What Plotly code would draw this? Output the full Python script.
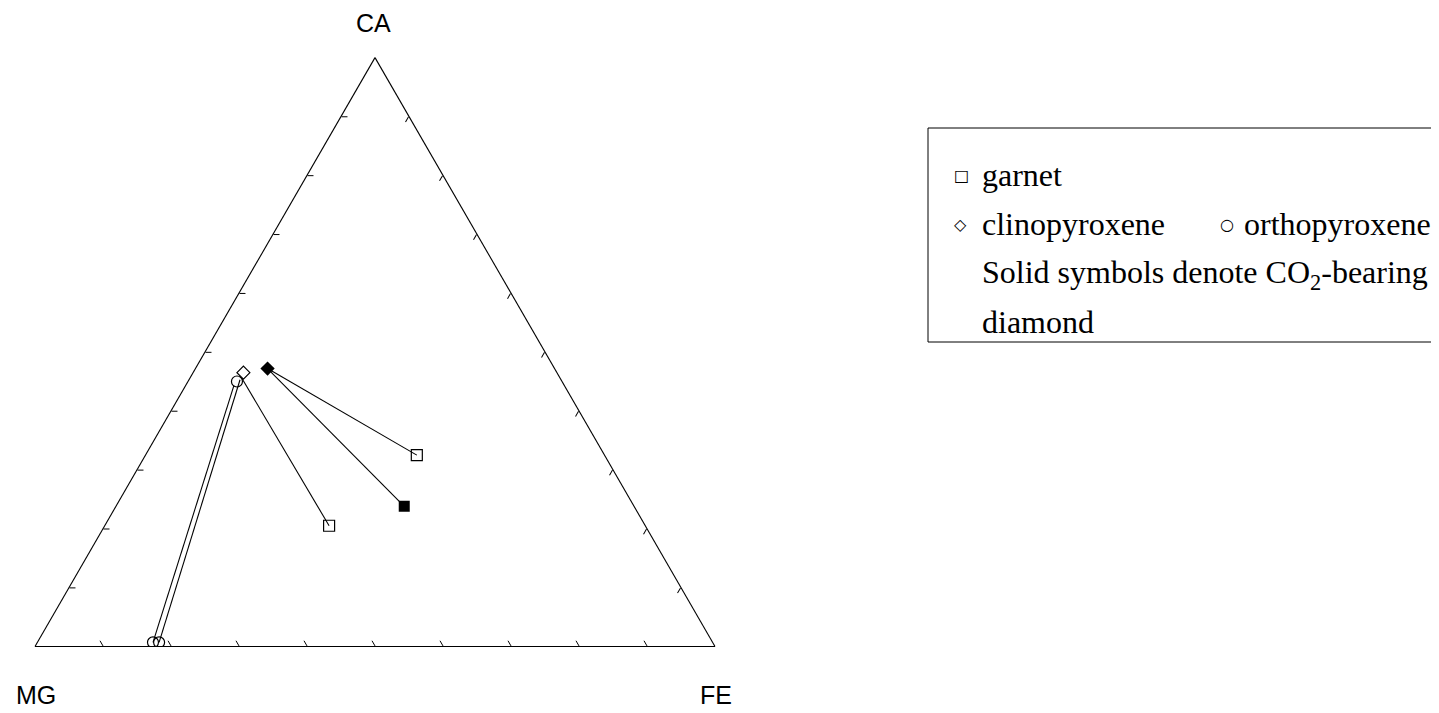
import plotly.graph_objects as go

# page body has an 8px margin: the figure is sized to fit inside the window
OFF = 8
W, H = 1439 - OFF, 713 - OFF

# ---- data (ternary: CA, MG, FE in percent) ----
garnet_open_ca = [32.5, 20.5]
garnet_open_mg = [27.6, 46.5]
garnet_open_fe = [39.9, 33.0]

garnet_solid_ca = [23.8]
garnet_solid_mg = [33.8]
garnet_solid_fe = [42.4]

cpx_open_ca = [46.5]
cpx_open_mg = [46.1]
cpx_open_fe = [7.4]

cpx_solid_ca = [47.2]
cpx_solid_mg = [42.2]
cpx_solid_fe = [10.6]

opx_ca = [0.7, 0.7, 45.0]
opx_mg = [82.3, 81.4, 47.8]
opx_fe = [17.0, 17.9, 7.2]

# tie lines: start (garnet / opx) -> end (cpx)
tie_start_ca = [32.5, 23.8, 20.5, 0.7, 0.7]
tie_start_mg = [27.6, 33.8, 46.5, 82.3, 81.4]
tie_start_fe = [39.9, 42.4, 33.0, 17.0, 17.9]
tie_end_ca = [47.2, 47.2, 45.6, 44.3, 45.3]
tie_end_mg = [42.2, 42.2, 46.8, 48.6, 47.2]
tie_end_fe = [10.6, 10.6, 7.6, 7.1, 7.5]

fig = go.Figure()

for i in range(len(tie_start_ca)):
    fig.add_trace(go.Scatterternary(
        a=[tie_start_ca[i], tie_end_ca[i]],
        b=[tie_start_mg[i], tie_end_mg[i]],
        c=[tie_start_fe[i], tie_end_fe[i]],
        mode="lines", line=dict(color="black", width=1.1),
        showlegend=False, hoverinfo="skip"))

mk_line = dict(color="black", width=1.2)
fig.add_trace(go.Scatterternary(a=garnet_open_ca, b=garnet_open_mg, c=garnet_open_fe,
    mode="markers", name="garnet",
    marker=dict(symbol="square-open", size=11, color="black", line=mk_line)))
fig.add_trace(go.Scatterternary(a=garnet_solid_ca, b=garnet_solid_mg, c=garnet_solid_fe,
    mode="markers", name="garnet (CO2)",
    marker=dict(symbol="square", size=11, color="black")))
fig.add_trace(go.Scatterternary(a=opx_ca, b=opx_mg, c=opx_fe,
    mode="markers", name="orthopyroxene",
    marker=dict(symbol="circle-open", size=11, color="black", line=mk_line)))
fig.add_trace(go.Scatterternary(a=cpx_open_ca, b=cpx_open_mg, c=cpx_open_fe,
    mode="markers", name="clinopyroxene",
    marker=dict(symbol="diamond-open", size=10, color="black", line=mk_line)))
fig.add_trace(go.Scatterternary(a=cpx_solid_ca, b=cpx_solid_mg, c=cpx_solid_fe,
    mode="markers", name="clinopyroxene (CO2)",
    marker=dict(symbol="diamond", size=11, color="black")))

axis_common = dict(showgrid=False, showticklabels=False, ticks="inside", ticklen=6,
                   tickcolor="black", tickwidth=1, dtick=10, linecolor="black",
                   linewidth=1.1, title=dict(text=""), min=0)


def px(x, y):
    """window pixel -> paper fraction"""
    return (x - OFF) / W, 1 - (y - OFF) / H


tri_left, tri_right, tri_base = 35, 715, 646.5
tri_top = tri_base - (tri_right - tri_left) * 3 ** 0.5 / 2
dx0, _ = px(tri_left, 0)
dx1, _ = px(tri_right, 0)
_, dy0 = px(0, tri_base)
_, dy1 = px(0, tri_top)

fig.update_layout(
    width=W, height=H,
    paper_bgcolor="white", plot_bgcolor="white",
    margin=dict(l=0, r=0, t=0, b=0),
    showlegend=False,
    ternary=dict(
        sum=100,
        bgcolor="white",
        domain=dict(x=[dx0, dx1], y=[dy0, dy1]),
        aaxis=axis_common, baxis=axis_common, caxis=axis_common,
    ),
)

label_font = dict(family="Liberation Sans, Arial, sans-serif", size=25, color="black")
for txt, (x, y) in [("CA", (373, 23)), ("MG", (36, 695)), ("FE", (716, 695))]:
    xx, yy = px(x, y)
    fig.add_annotation(x=xx, y=yy, xref="paper", yref="paper", text=txt,
                       showarrow=False, font=label_font, xanchor="center", yanchor="middle")

# legend box
bx0, by0 = px(928, 128)
bx1, by1 = px(1460, 342)
fig.add_shape(type="rect", xref="paper", yref="paper", x0=bx0, y0=by1, x1=bx1, y1=by0,
              line=dict(color="black", width=1), fillcolor="rgba(0,0,0,0)")

leg_font = dict(family="Liberation Serif, Times New Roman, serif", size=32, color="black")
sym_font = dict(family="DejaVu Sans, sans-serif", size=16, color="black")
legend_rows = [
    (952, 175, "□", sym_font), (980, 175, "garnet", leg_font),
    (952, 224, "◇", sym_font), (980, 224, "clinopyroxene", leg_font),
    (1218, 224, "○", sym_font), (1242, 224, "orthopyroxene", leg_font),
    (980, 274, "Solid symbols denote CO<sub>2</sub>-bearing", leg_font),
    (980, 322, "diamond", leg_font),
]
for x, y, txt, f in legend_rows:
    xx, yy = px(x, y)
    fig.add_annotation(x=xx, y=yy, xref="paper", yref="paper", text=txt,
                       showarrow=False, font=f, xanchor="left", yanchor="middle")

fig.write_html("out.html")
